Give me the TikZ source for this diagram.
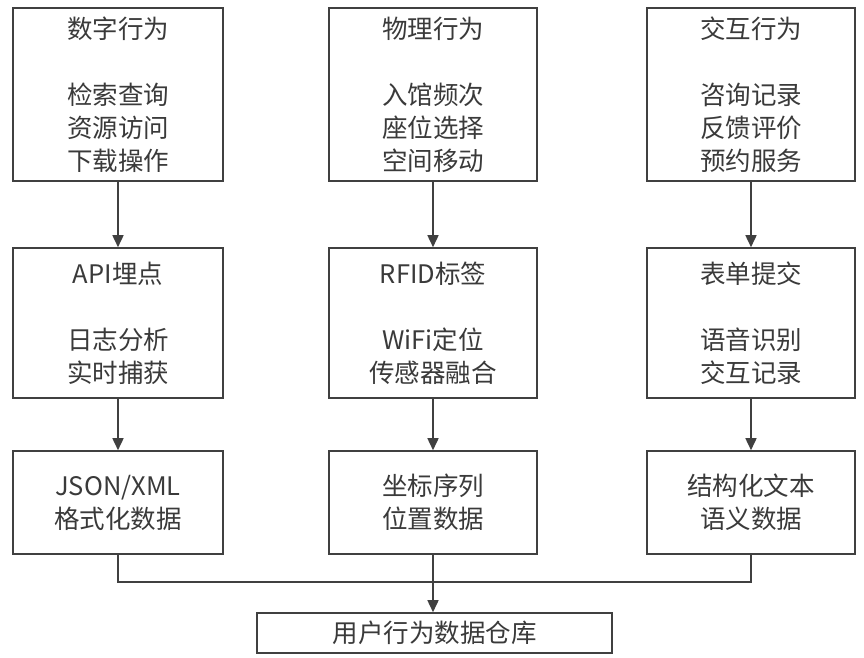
\documentclass[tikz,border=0pt]{standalone}
\usepackage{fontspec}
\setmainfont{Noto Sans CJK SC}
\usetikzlibrary{arrows.meta}
\definecolor{ln}{HTML}{404040}
\definecolor{tx}{HTML}{3a3a3a}
\begin{document}
\begin{tikzpicture}[x=1pt,y=-1pt,
  box/.style={draw=ln, line width=1.6pt, fill=white, text=tx, align=center,
    inner sep=0pt, font=\fontsize{25.5}{33}\selectfont},
  arr/.style={draw=ln, line width=1.6pt, -{Triangle[length=12pt,width=11pt]}},
  ln2/.style={draw=ln, line width=1.6pt}]
\useasboundingbox (0,0) rectangle (864,657);
\fill[white] (0,0) rectangle (864,657);
% row 1
\node[box, minimum width=210pt, minimum height=173pt] (a1) at (118,94.5) {数字行为\\[33pt]检索查询\\资源访问\\下载操作};
\node[box, minimum width=208pt, minimum height=173pt] (b1) at (433,94.5) {物理行为\\[33pt]入馆频次\\座位选择\\空间移动};
\node[box, minimum width=208pt, minimum height=173pt] (c1) at (751,94.5) {交互行为\\[33pt]咨询记录\\反馈评价\\预约服务};
% row 2
\node[box, minimum width=210pt, minimum height=150pt] (a2) at (118,323) {API埋点\\[33pt]日志分析\\实时捕获};
\node[box, minimum width=208pt, minimum height=150pt] (b2) at (433,323) {RFID标签\\[33pt]WiFi定位\\传感器融合};
\node[box, minimum width=208pt, minimum height=150pt] (c2) at (751,323) {表单提交\\[33pt]语音识别\\交互记录};
% row 3
\node[box, minimum width=210pt, minimum height=103pt] (a3) at (118,502.5) {JSON/XML\\格式化数据};
\node[box, minimum width=208pt, minimum height=103pt] (b3) at (433,502.5) {坐标序列\\位置数据};
\node[box, minimum width=208pt, minimum height=103pt] (c3) at (751,502.5) {结构化文本\\语义数据};
% bottom
\node[box, minimum width=355pt, minimum height=40pt] (d) at (434.5,633) {用户行为数据仓库};
\coordinate (j) at (433,582);
% arrows
\draw[arr] (a1) -- (a2);
\draw[arr] (b1) -- (b2);
\draw[arr] (c1) -- (c2);
\draw[arr] (a2) -- (a3);
\draw[arr] (b2) -- (b3);
\draw[arr] (c2) -- (c3);
\draw[ln2] (a3.south) |- (j);
\draw[ln2] (c3.south) |- (j);
\draw[arr] (b3.south) -- (b3.south |- d.north);
\end{tikzpicture}
\end{document}
